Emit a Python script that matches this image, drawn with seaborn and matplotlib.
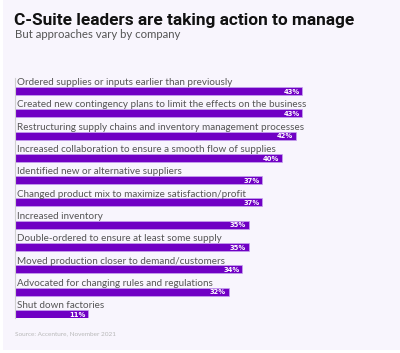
import matplotlib
matplotlib.use("Agg")
import matplotlib.pyplot as plt
import seaborn as sns
import pandas as pd
from matplotlib.patches import Rectangle

actions = [
    "Ordered supplies or inputs earlier than previously",
    "Created new contingency plans to limit the effects on the business",
    "Restructuring supply chains and inventory management processes",
    "Increased collaboration to ensure a smooth flow of supplies",
    "Identified new or alternative suppliers",
    "Changed product mix to maximize satisfaction/profit",
    "Increased inventory",
    "Double-ordered to ensure at least some supply",
    "Moved production closer to demand/customers",
    "Advocated for changing rules and regulations",
    "Shut down factories",
]
shares = [43, 43, 42, 40, 37, 37, 35, 35, 34, 32, 11]

df = pd.DataFrame({"action": actions, "share": shares})

sns.set_style("white")
plt.rcParams["font.family"] = ["Lato", "DejaVu Sans"]

W, H = 400, 353
fig = plt.figure(figsize=(4, 3.53), dpi=100)
fig.patch.set_facecolor("white")
fig.patches.append(Rectangle((3 / W, 3 / H), 1, 1, transform=fig.transFigure,
                             facecolor="#f8f5fd", edgecolor="none", zorder=-10))

# axes placed in pixel terms
left, right = 15, 349
top, bottom = 78, 318
ax = fig.add_axes([left / W, 1 - bottom / H, (right - left) / W, (bottom - top) / H])
ax.set_facecolor("none")

purple = "#7000c4"
sns.barplot(data=df, y="action", x="share", orient="h", color=purple,
            width=0.36, edgecolor="#c7a3ef", linewidth=0.5, ax=ax, saturation=1)

ax.set_xlim(0, 50)
ax.set_ylim(10.18, -0.58)
ax.set_xlabel("")
ax.set_ylabel("")
ax.set_xticks([])
ax.set_yticks([])
for s in ["top", "right", "bottom"]:
    ax.spines[s].set_visible(False)
ax.spines["left"].set_color("#cfcfcf")
ax.spines["left"].set_linewidth(0.8)

for i, (lab, v) in enumerate(zip(actions, shares)):
    ax.text(0.25, i - 0.26, lab, fontsize=7.1, color="#555555", va="baseline", ha="left")
    ax.text(v - 0.4, i + 0.03, f"{v}%", fontsize=4.9, color="white",
            fontweight="bold", va="center", ha="right",
            family=["DejaVu Sans"])

fig.text(14 / W, 1 - 21 / H, "C-Suite leaders are taking action to manage",
         fontsize=12.4, fontweight="bold", color="#111111", va="center", ha="left",
         family=["Roboto", "DejaVu Sans"])
fig.text(15 / W, 1 - 35 / H, "But approaches vary by company",
         fontsize=8.2, color="#555555", va="center", ha="left")
fig.text(15 / W, 1 - 334 / H, "Source: Accenture, November 2021",
         fontsize=4.6, color="#b8b8b8", va="center", ha="left")

fig.savefig("out.png", dpi=100)
